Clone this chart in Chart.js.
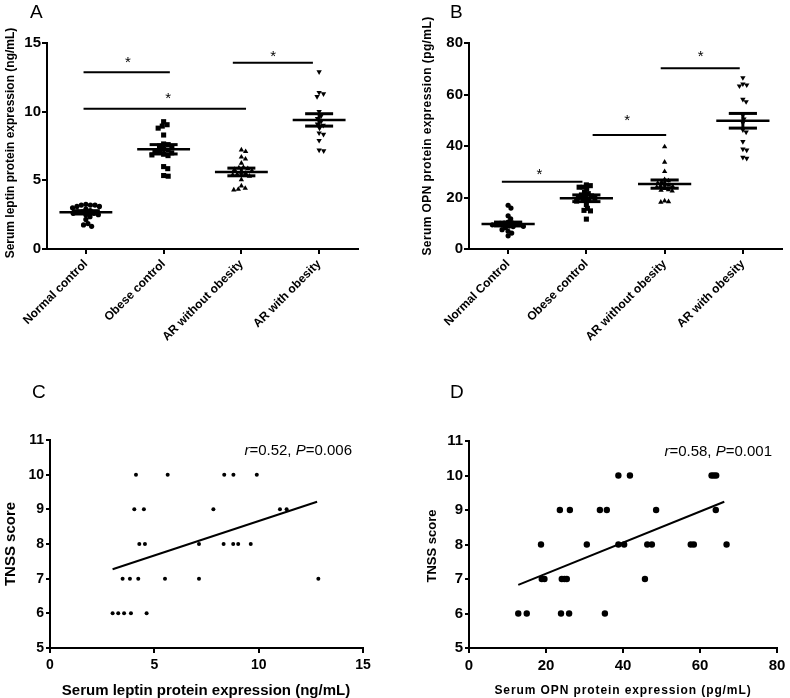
<!DOCTYPE html>
<html><head><meta charset="utf-8">
<script src="https://cdn.jsdelivr.net/npm/chart.js@4.4.0/dist/chart.umd.min.js"></script>
<style>
html,body{margin:0;padding:0;background:#fff;width:790px;height:698px;overflow:hidden;position:relative;}
canvas{position:absolute;display:block;}
</style></head><body>
<canvas id="cA" width="395" height="375" style="left:0;top:0;width:395px;height:375px"></canvas>
<canvas id="cB" width="395" height="375" style="left:395px;top:0;width:395px;height:375px"></canvas>
<canvas id="cC" width="395" height="330" style="left:0;top:375px;width:395px;height:330px"></canvas>
<canvas id="cD" width="395" height="330" style="left:395px;top:375px;width:395px;height:330px"></canvas>
<script>
// ---------------- DATA ----------------
const catsA = ['Normal control','Obese control','AR without obesity','AR with obesity'];
const catsB = ['Normal Control','Obese control','AR without obesity','AR with obesity'];

// Panel A: serum leptin (ng/mL)
const leptinNormal = [3.2,3.1,3.2,3.25,3.2,3.0,3.1,2.9,2.8,2.7,2.7,2.6,2.6,2.5,2.5,2.35,2.15,1.85,1.65,1.75];
const leptinObese = [9.27,9.05,8.95,8.8,8.3,7.65,7.6,7.5,7.4,7.3,7.2,7.15,7.1,7.0,6.9,6.85,6.8,6.0,5.85,5.35,5.3];
const leptinArNonObese = [7.22,7.1,6.7,6.55,6.25,5.95,5.9,5.85,5.8,5.7,5.6,5.5,5.45,5.4,5.3,5.05,4.6,4.42,4.35,4.3];
const leptinArObese = [12.9,11.4,11.3,11.1,10.0,9.7,9.5,9.3,9.1,9.0,8.8,8.45,8.35,7.9,7.2,7.15];
const leptinMean = [2.67,7.26,5.61,9.40];
const leptinSem = [0.12,0.34,0.28,0.45];
const leptinSigFrom = [-0.03,-0.03,1.89];
const leptinSigTo = [1.08,2.06,2.92];
const leptinSigY = [12.87,10.22,13.57];
const leptinStarX = [0.54,1.06,2.41];
const leptinStarY = [13.8,11.2,14.25];

// Panel B: serum OPN (pg/mL)
const opnNormal = [17.0,15.9,12.9,11.7,10.4,10.2,9.9,10.1,10.0,9.8,9.6,9.4,8.9,8.8,8.7,8.3,7.5,6.9,6.2,5.1];
const opnObese = [24.9,24.6,24.0,24.0,23.3,22.0,21.5,21.0,20.6,20.3,20.0,19.7,19.4,19.0,18.6,17.3,15.8,15.0,14.8,11.6];
const opnArNonObese = [39.7,33.7,30.1,27.0,26.5,26.0,25.6,25.2,24.8,24.5,24.3,24.0,23.5,23.0,22.8,22.5,18.7,18.4,18.2];
const opnArObese = [66.5,64.1,63.7,63.3,58.1,57.2,52.0,50.5,49.0,46.3,45.4,41.7,38.8,38.4,35.6,35.2];
const opnMean = [9.7,19.7,25.2,49.8];
const opnSem = [0.75,1.3,1.6,2.85];
const opnSigFrom = [-0.08,1.08,1.95];
const opnSigTo = [0.95,2.02,2.96];
const opnSigY = [26.1,44.3,70.2];
const opnStarX = [0.40,1.52,2.46];
const opnStarY = [30.4,51.1,76.0];

// Panel C: leptin vs TNSS
const cLeptin = [4.12,5.64,8.35,8.79,9.91, 4.04,4.50,7.83,11.02,11.34, 4.28,4.55,7.14,8.32,8.78,9.02,9.62, 3.48,3.83,4.23,5.51,7.14,12.86, 3.0,3.27,3.55,3.88,4.63];
const cTnss   = [10,10,10,10,10, 9,9,9,9,9, 8,8,8,8,8,8,8, 7,7,7,7,7,7, 6,6,6,6,6];
const cFitX = [3.0,12.8];
const cFitY = [7.27,9.22];
const cStat = ['r','=0.52, ','P','=0.006'];

// Panel D: OPN vs TNSS
const dOpn  = [38.8,41.8,63.0,63.6,64.2, 23.6,26.2,34.0,35.8,48.6,64.1, 18.7,30.6,38.8,40.3,46.3,47.5,57.6,58.4,66.9, 18.9,19.6,24.1,24.8,25.4,45.7, 12.8,15.0,23.9,26.0,35.3];
const dTnss = [10,10,10,10,10, 9,9,9,9,9,9, 8,8,8,8,8,8,8,8,8, 7,7,7,7,7,7, 6,6,6,6,6];
const dFitX = [12.8,66.3];
const dFitY = [6.83,9.24];
const dStat = ['r','=0.58, ','P','=0.001'];

// ---------------- HELPERS ----------------
const FF = '"Liberation Sans", Arial, Helvetica, sans-serif';
Chart.defaults.font.family = FF;
Chart.defaults.color = '#000';

function axisStyle(fontSize, tickLen, pad) {
  return {
    border: {display: true, color: '#000', width: 2},
    grid: {display: true, drawOnChartArea: false, drawTicks: true, tickLength: tickLen, color: '#000', lineWidth: 2},
    ticks: {color: '#000', font: {family: FF, size: fontSize, weight: 'bold'}, padding: pad}
  };
}

function drawText(ctx, txt, x, y, font, opts) {
  ctx.save();
  ctx.font = font;
  ctx.fillStyle = '#000';
  ctx.textAlign = opts.align || 'center';
  ctx.textBaseline = opts.baseline || 'middle';
  if (opts.spacing) { try { ctx.letterSpacing = opts.spacing; } catch(e){} }
  ctx.translate(x, y);
  if (opts.rot) ctx.rotate(opts.rot);
  ctx.fillText(txt, 0, 0);
  ctx.restore();
}

function statText(ctx, parts, right, y, size) {
  ctx.save();
  ctx.fillStyle = '#000';
  ctx.textBaseline = 'middle';
  const fonts = parts.map((p, i) => (i % 2 === 0 ? 'italic ' : '') + size + 'px ' + FF);
  let w = 0;
  parts.forEach((p, i) => { ctx.font = fonts[i]; w += ctx.measureText(p).width; });
  let x = right - w;
  parts.forEach((p, i) => { ctx.font = fonts[i]; ctx.textAlign = 'left'; ctx.fillText(p, x, y); x += ctx.measureText(p).width; });
  ctx.restore();
}

function line(ctx, x1, y1, x2, y2) { ctx.beginPath(); ctx.moveTo(x1, y1); ctx.lineTo(x2, y2); ctx.stroke(); }

function swarm(chart, center, values, spacing) {
  const xs = chart.scales.x, ys = chart.scales.y;
  const cx = xs.getPixelForValue(center);
  const placed = [];
  const out = new Array(values.length);
  const order = values.map((v, i) => i).sort((a, b) => values[b] - values[a]);
  for (const i of order) {
    const py = ys.getPixelForValue(values[i]);
    const forb = [];
    for (const p of placed) {
      const dy = Math.abs(p.y - py);
      if (dy < spacing) { const w = Math.sqrt(spacing * spacing - dy * dy); forb.push([p.x - w, p.x + w]); }
    }
    const cands = [0];
    forb.forEach(f => cands.push(f[0], f[1]));
    cands.sort((a, b) => Math.abs(a) - Math.abs(b) || b - a);
    let best = 0;
    for (const c of cands) {
      if (!forb.some(f => c > f[0] + 1e-6 && c < f[1] - 1e-6)) { best = c; break; }
    }
    placed.push({x: best, y: py});
    out[i] = {x: xs.getValueForPixel(cx + best), y: values[i]};
  }
  return out;
}

function columnChart(id, cats, groups, mean, sem, yMax, yStep, sig, area, spacing, texts) {
  const styles = [
    {pointStyle: 'circle', radius: 2.6, rotation: 0},
    {pointStyle: 'rect', radius: 3.6, rotation: 0},
    {pointStyle: 'triangle', radius: 3.1, rotation: 0},
    {pointStyle: 'triangle', radius: 3.1, rotation: 180}
  ];
  const ax = axisStyle(15, 5, 1);
  const xAx = axisStyle(12, 5, 3);
  const canvas = document.getElementById(id);
  const chart = new Chart(canvas, {
    type: 'scatter',
    data: {
      datasets: groups.map((g, i) => ({
        data: g.map(v => ({x: i, y: v})),
        backgroundColor: '#000', borderColor: '#000', borderWidth: 0,
        pointStyle: styles[i].pointStyle, pointRadius: styles[i].radius, pointRotation: styles[i].rotation,
        pointHoverRadius: styles[i].radius, showLine: false
      }))
    },
    options: {
      responsive: false, animation: false, events: [],
      layout: {padding: {left: 0, top: area.top, right: canvas.width - area.right, bottom: 0}},
      plugins: {legend: {display: false}, tooltip: {enabled: false}},
      scales: {
        x: Object.assign({}, xAx, {
          type: 'linear', min: -0.5, max: 3.5,
          afterBuildTicks: s => { s.ticks = cats.map((c, i) => ({value: i})); },
          ticks: Object.assign({}, xAx.ticks, {autoSkip: false, maxRotation: 45, minRotation: 45, callback: v => cats[v]}),
          afterFit: s => { s.height = canvas.height - area.bottom; }
        }),
        y: Object.assign({}, ax, {
          type: 'linear', min: 0, max: yMax,
          ticks: Object.assign({}, ax.ticks, {stepSize: yStep}),
          afterFit: s => { s.width = area.left; }
        })
      }
    },
    plugins: [{
      id: 'stats',
      afterDatasetsDraw(ch) {
        const ctx = ch.ctx, x = ch.scales.x, y = ch.scales.y;
        ctx.save();
        ctx.strokeStyle = '#000';
        mean.forEach((m, i) => {
          const cx = x.getPixelForValue(i);
          const my = y.getPixelForValue(m), hy = y.getPixelForValue(m + sem[i]), ly = y.getPixelForValue(m - sem[i]);
          const mw = x.getPixelForValue(i + 0.34) - cx, cw = x.getPixelForValue(i + 0.18) - cx;
          ctx.lineWidth = 3; line(ctx, cx, hy, cx, ly);
          line(ctx, cx - cw, hy, cx + cw, hy); line(ctx, cx - cw, ly, cx + cw, ly);
          ctx.lineWidth = 2.5; line(ctx, cx - mw, my, cx + mw, my);
        });
        ctx.lineWidth = 2;
        sig.from.forEach((f, i) => {
          const yy = y.getPixelForValue(sig.y[i]);
          line(ctx, x.getPixelForValue(f), yy, x.getPixelForValue(sig.to[i]), yy);
          drawText(ctx, '*', x.getPixelForValue(sig.sx[i]), y.getPixelForValue(sig.sy[i]) + 8, '15px ' + FF, {baseline: 'alphabetic'});
        });
        ctx.restore();
      },
      afterDraw(ch) { texts(ch.ctx); }
    }]
  });
  chart.data.datasets.forEach((ds, i) => { ds.data = swarm(chart, i, groups[i], spacing); });
  chart.update('none');
  return chart;
}

function scatterChart(id, xs, ys, fitX, fitY, xMax, xStep, radius, area, yTickFont, xTickFont, texts) {
  const canvas = document.getElementById(id);
  const ax = axisStyle(yTickFont, 4, 2);
  const xAx = axisStyle(xTickFont, 5, 4);
  return new Chart(canvas, {
    type: 'scatter',
    data: {
      datasets: [
        {data: xs.map((v, i) => ({x: v, y: ys[i]})), backgroundColor: '#000', borderWidth: 0, pointRadius: radius, pointHoverRadius: radius, showLine: false},
        {type: 'line', data: fitX.map((v, i) => ({x: v, y: fitY[i]})), borderColor: '#000', borderWidth: 2, pointRadius: 0, fill: false, tension: 0}
      ]
    },
    options: {
      responsive: false, animation: false, events: [],
      layout: {padding: {left: 0, top: area.top, right: canvas.width - area.right, bottom: 0}},
      plugins: {legend: {display: false}, tooltip: {enabled: false}},
      scales: {
        x: Object.assign({}, xAx, {
          type: 'linear', min: 0, max: xMax,
          ticks: Object.assign({}, xAx.ticks, {stepSize: xStep, maxRotation: 0}),
          afterFit: s => { s.height = canvas.height - area.bottom; }
        }),
        y: Object.assign({}, ax, {
          type: 'linear', min: 5, max: 11,
          ticks: Object.assign({}, ax.ticks, {stepSize: 1}),
          afterFit: s => { s.width = area.left; }
        })
      }
    },
    plugins: [{ id: 'txt', afterDraw(ch) { texts(ch.ctx); } }]
  });
}

// ---------------- PANELS ----------------
columnChart('cA', catsA, [leptinNormal, leptinObese, leptinArNonObese, leptinArObese], leptinMean, leptinSem, 15, 5,
  {from: leptinSigFrom, to: leptinSigTo, y: leptinSigY, sx: leptinStarX, sy: leptinStarY},
  {left: 47, right: 358, top: 43, bottom: 249}, 4.6,
  ctx => {
    drawText(ctx, 'A', 30, 18, '19px ' + FF, {align: 'left', baseline: 'alphabetic'});
    drawText(ctx, 'Serum leptin protein expression (ng/mL)', 11, 143, 'bold 12px ' + FF, {rot: -Math.PI / 2});
  });

columnChart('cB', catsB, [opnNormal, opnObese, opnArNonObese, opnArObese], opnMean, opnSem, 80, 20,
  {from: opnSigFrom, to: opnSigTo, y: opnSigY, sx: opnStarX, sy: opnStarY},
  {left: 74, right: 387, top: 43, bottom: 249}, 4.0,
  ctx => {
    drawText(ctx, 'B', 55, 18, '19px ' + FF, {align: 'left', baseline: 'alphabetic'});
    drawText(ctx, 'Serum OPN protein expression (pg/mL)', 33, 136, 'bold 12px ' + FF, {rot: -Math.PI / 2, spacing: '0.4px'});
  });

scatterChart('cC', cLeptin, cTnss, cFitX, cFitY, 15, 5, 2.0,
  {left: 50, right: 363, top: 65, bottom: 273}, 14, 14,
  ctx => {
    drawText(ctx, 'C', 32, 23, '19px ' + FF, {align: 'left', baseline: 'alphabetic'});
    drawText(ctx, 'TNSS score', 11, 169, 'bold 15px ' + FF, {rot: -Math.PI / 2});
    drawText(ctx, 'Serum leptin protein expression (ng/mL)', 206, 316, 'bold 15px ' + FF, {});
    statText(ctx, cStat, 352, 76, 15);
  });

scatterChart('cD', dOpn, dTnss, dFitX, dFitY, 80, 20, 3.2,
  {left: 74, right: 382, top: 66, bottom: 273}, 15, 15,
  ctx => {
    drawText(ctx, 'D', 55, 23, '19px ' + FF, {align: 'left', baseline: 'alphabetic'});
    drawText(ctx, 'TNSS score', 37, 171, 'bold 13px ' + FF, {rot: -Math.PI / 2});
    drawText(ctx, 'Serum OPN protein expression (pg/mL)', 228, 316, 'bold 12px ' + FF, {spacing: '0.9px'});
    statText(ctx, dStat, 377, 77, 15);
  });
</script>
</body></html>
